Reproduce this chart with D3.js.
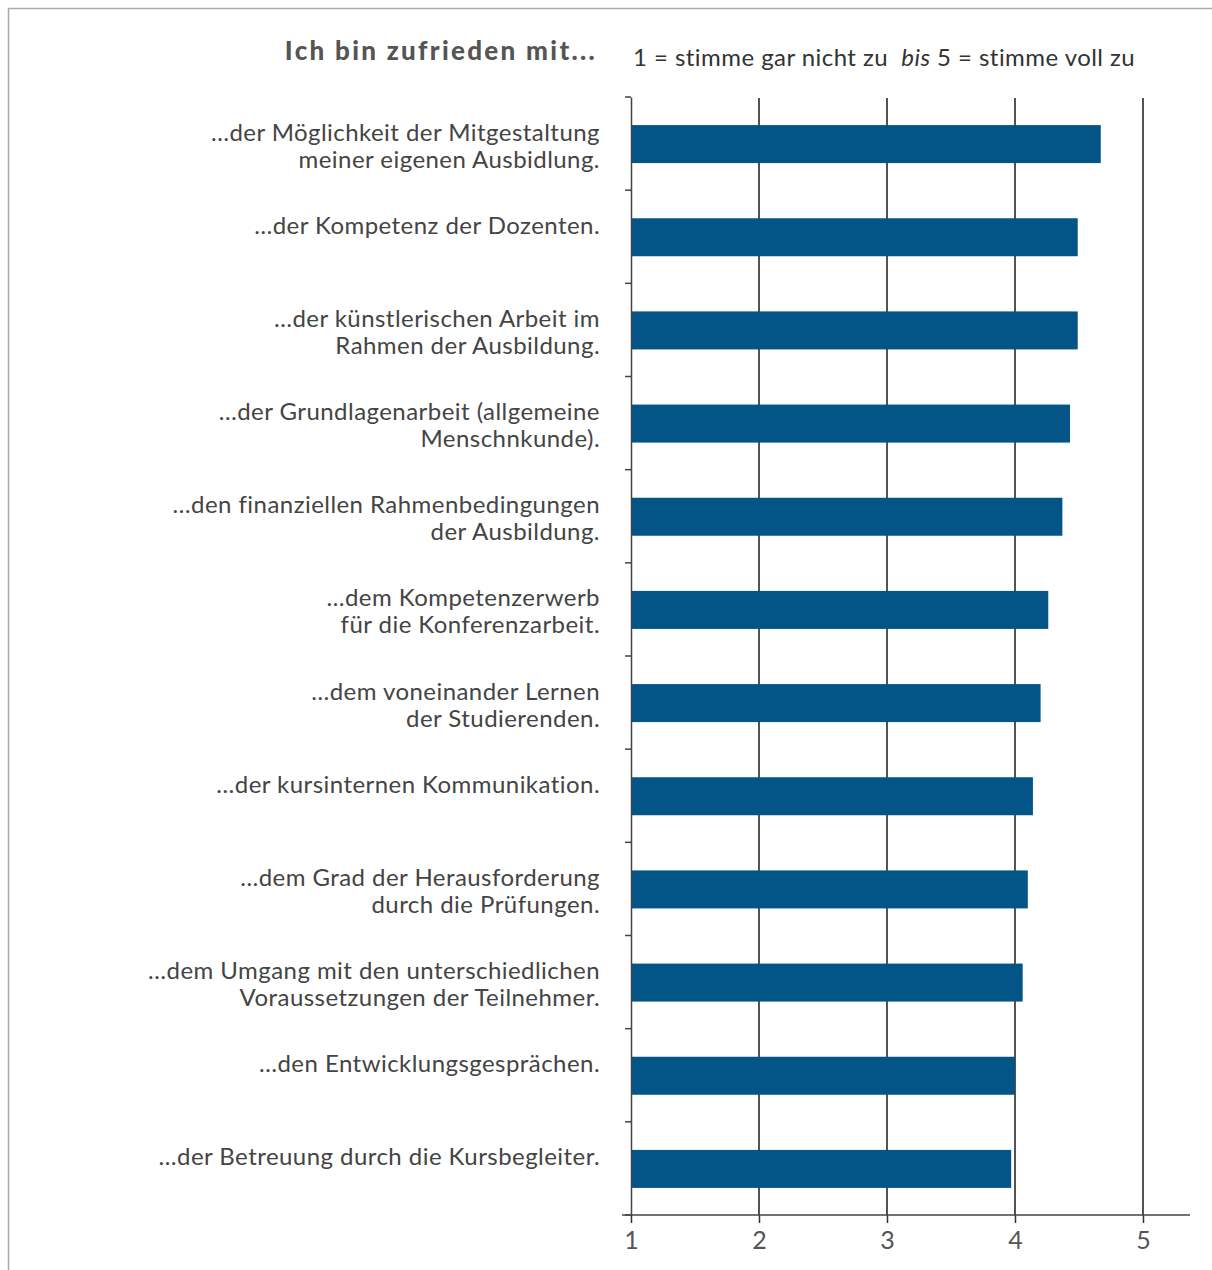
<!DOCTYPE html>
<html>
<head>
<meta charset="utf-8">
<script src="https://cdn.jsdelivr.net/npm/d3@7"></script>
<style>
  html, body { margin: 0; padding: 0; background: #fff; }
  svg { display: block; }
  text { font-family: Lato, "Open Sans", sans-serif; }
</style>
</head>
<body>
<svg id="chart" width="1212" height="1270"></svg>
<script>
const categories = [
  ["…der Möglichkeit der Mitgestaltung", "meiner eigenen Ausbidlung."],
  ["…der Kompetenz der Dozenten."],
  ["…der künstlerischen Arbeit im", "Rahmen der Ausbildung."],
  ["…der Grundlagenarbeit (allgemeine", "Menschnkunde)."],
  ["…den finanziellen Rahmenbedingungen", "der Ausbildung."],
  ["…dem Kompetenzerwerb", "für die Konferenzarbeit."],
  ["…dem voneinander Lernen", "der Studierenden."],
  ["…der kursinternen Kommunikation."],
  ["…dem Grad der Herausforderung", "durch die Prüfungen."],
  ["…dem Umgang mit den unterschiedlichen", "Voraussetzungen der Teilnehmer."],
  ["…den Entwicklungsgesprächen."],
  ["…der Betreuung durch die Kursbegleiter."]
];
const values = [4.67, 4.49, 4.49, 4.43, 4.37, 4.26, 4.20, 4.14, 4.10, 4.06, 4.00, 3.97];
const tickValues = [1, 2, 3, 4, 5];
const tickLabels = ["1", "2", "3", "4", "5"];
const title = "Ich bin zufrieden mit...";
const subtitleParts = [
  {t: "1 = stimme gar nicht zu  ", italic: false},
  {t: "bis", italic: true},
  {t: " 5 = stimme voll zu", italic: false}
];

const svg = d3.select("#chart");

// frame
svg.append("path")
  .attr("d", "M8.5,1270 L8.5,8.5 L1212,8.5")
  .attr("fill", "none").attr("stroke", "#aaa").attr("stroke-width", 1.5);

const x = d3.scaleLinear().domain([1, 5]).range([631, 1143]);
const yOuter = d3.scaleBand().domain(d3.range(categories.length)).range([97, 1215]);

// gridlines
svg.append("g").selectAll("line").data(tickValues.slice(1)).join("line")
  .attr("x1", d => x(d)).attr("x2", d => x(d))
  .attr("y1", 98).attr("y2", 1215)
  .attr("stroke", "#1a1a1a").attr("stroke-width", 1.5);

// bars
svg.append("g").selectAll("rect").data(values).join("rect")
  .attr("x", x(1))
  .attr("y", (d, i) => yOuter(i) + yOuter.bandwidth() / 2 - 18.5)
  .attr("width", d => x(d) - x(1))
  .attr("height", 38)
  .attr("fill", "#045587");

// left axis
const yAxis = d3.axisLeft(yOuter).tickSize(0).tickFormat("");
const gy = svg.append("g").attr("transform", `translate(${x(1)},0)`).call(yAxis);
gy.select(".domain").attr("stroke", "#444").attr("stroke-width", 1.5);
const bounds = d3.range(categories.length + 1).map(i => 97 + i * yOuter.step());
svg.append("g").selectAll("line").data(bounds).join("line")
  .attr("x1", x(1) - 6).attr("x2", x(1))
  .attr("y1", d => d).attr("y2", d => d)
  .attr("stroke", "#444").attr("stroke-width", 1.5);

// bottom axis
const xAxis = d3.axisBottom(x).tickValues(tickValues).tickSize(8)
  .tickFormat((d, i) => tickLabels[i]).tickPadding(8);
const gx = svg.append("g").attr("transform", "translate(0,1215)").call(xAxis);
gx.select(".domain").remove();
svg.append("line").attr("x1", 622).attr("x2", 1190).attr("y1", 1215).attr("y2", 1215)
  .attr("stroke", "#444").attr("stroke-width", 1.5);
gx.selectAll(".tick line").attr("stroke", "#333").attr("stroke-width", 1.5);
gx.selectAll(".tick text").attr("font-size", 25).attr("fill", "#555")
  .style("font-family", "Lato, 'Open Sans', sans-serif");

// category labels
const lg = svg.append("g");
categories.forEach((lines, i) => {
  const c = yOuter(i) + yOuter.bandwidth() / 2;
  const t = lg.append("text").attr("text-anchor", "end")
    .attr("font-size", 24).attr("letter-spacing", 0.45).attr("fill", "#444");
  lines.forEach((ln, j) => {
    t.append("tspan").attr("x", 600).attr("y", c - 3 + j * 27).text(ln);
  });
});

// title
svg.append("text").attr("x", 597).attr("y", 60).attr("text-anchor", "end")
  .attr("font-size", 26).attr("font-weight", 900).attr("letter-spacing", 2.3)
  .attr("fill", "#555").text(title);

const st = svg.append("text").attr("x", 633).attr("y", 66)
  .attr("font-size", 24).attr("letter-spacing", 0.45).attr("fill", "#333")
  .attr("xml:space", "preserve").style("white-space", "pre");
subtitleParts.forEach(p => {
  st.append("tspan").attr("font-style", p.italic ? "italic" : "normal").text(p.t);
});
</script>
</body>
</html>
